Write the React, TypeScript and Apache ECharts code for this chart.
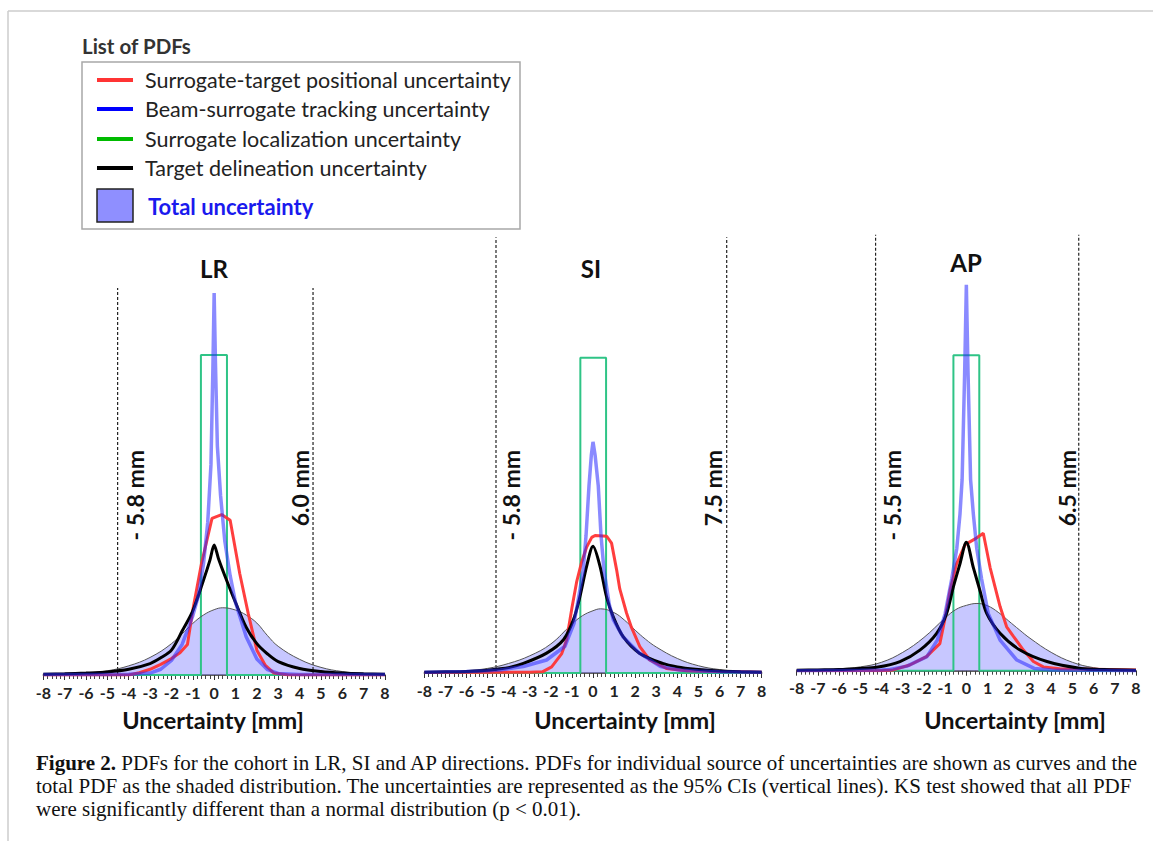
import React, { useEffect, useRef } from "react";
import * as echarts from "echarts";

// ---------- DATA (x in mm, y = probability density) ----------
const PANEL_NAMES = ["LR", "SI", "AP"];

const LR_TOTAL = [[-8,0.001],[-7,0.002],[-6,0.005],[-5,0.011],[-4,0.024],[-3,0.046],[-2,0.082],[-1,0.135],[-0.5,0.157],[0,0.171],[0.4,0.176],[1,0.17],[1.5,0.157],[2,0.136],[2.5,0.103],[3,0.075],[4,0.041],[5,0.02],[6,0.009],[7,0.004],[8,0.002]];
const LR_RED = [[-8,0],[-4,0],[-3.5,0.006],[-3,0.015],[-2.5,0.028],[-2,0.043],[-1.6,0.058],[-1.25,0.08],[-1,0.17],[-0.6,0.29],[-0.1,0.41],[0.35,0.42],[0.75,0.405],[1.2,0.265],[1.6,0.16],[2,0.065],[2.4,0.025],[2.8,0.005],[3.5,0],[8,0]];
const LR_BLUE = [[-8,0.001],[-5,0.001],[-4,0.002],[-3,0.005],[-2.5,0.015],[-2,0.038],[-1.5,0.08],[-1,0.155],[-0.75,0.205],[-0.5,0.29],[-0.3,0.4],[-0.15,0.55],[-0.06,0.8],[0,1.0],[0.06,0.82],[0.15,0.6],[0.3,0.47],[0.5,0.35],[0.75,0.26],[1,0.19],[1.5,0.1],[2,0.042],[2.5,0.014],[3,0.004],[4,0.001],[8,0.001]];
const LR_GREEN = [[-8,0],[-0.62,0],[-0.62,0.838],[0.6,0.838],[0.6,0],[8,0]];
const LR_BLACK = [[-8,0.002],[-7,0.003],[-6,0.005],[-5,0.008],[-4,0.015],[-3,0.03],[-2.5,0.045],[-2,0.065],[-1.5,0.115],[-1,0.168],[-0.5,0.248],[-0.2,0.3],[0,0.34],[0.2,0.305],[0.5,0.26],[1,0.19],[1.5,0.125],[2,0.082],[2.5,0.055],[3,0.035],[4,0.017],[5,0.009],[6,0.005],[7,0.003],[8,0.002]];
const LR_CI = [-4.52, 4.63];
const LR_CI_TOP = 1.013;
const LR_CI_LABELS = ["- 5.8 mm", "6.0 mm"];

const SI_TOTAL = [[-8,0.002],[-7,0.003],[-6,0.006],[-5,0.012],[-4,0.025],[-3,0.045],[-2,0.076],[-1,0.128],[-0.5,0.15],[0,0.163],[0.36,0.168],[1,0.158],[1.5,0.138],[2,0.112],[2.5,0.088],[3,0.068],[4,0.038],[5,0.019],[6,0.009],[7,0.004],[8,0.002]];
const SI_RED = [[-8,0.001],[-3,0.002],[-2.4,0.003],[-1.96,0.016],[-1.49,0.05],[-1.25,0.087],[-1.0,0.17],[-0.77,0.24],[-0.54,0.29],[-0.3,0.33],[-0.06,0.355],[0.1,0.36],[0.65,0.358],[0.88,0.34],[1.12,0.27],[1.27,0.22],[1.59,0.157],[1.82,0.12],[2.22,0.069],[2.69,0.034],[3.48,0.012],[4.43,0.006],[6,0.004],[7,0.003],[8,0.002]];
const SI_BLUE = [[-8,0.002],[-6,0.004],[-5,0.006],[-4.4,0.008],[-3.3,0.017],[-2.2,0.034],[-1.33,0.07],[-0.9,0.13],[-0.74,0.18],[-0.46,0.27],[-0.33,0.36],[-0.19,0.49],[-0.08,0.57],[0,0.605],[0.1,0.57],[0.25,0.49],[0.38,0.36],[0.52,0.27],[0.77,0.18],[0.96,0.14],[1.42,0.095],[2.2,0.052],[3.2,0.017],[4.1,0.008],[5,0.005],[6,0.003],[8,0.002]];
const SI_GREEN = [[-8,0],[-0.6,0],[-0.6,0.825],[0.62,0.825],[0.62,0],[8,0]];
const SI_BLACK = [[-8,0.002],[-7,0.003],[-6,0.004],[-5,0.007],[-4.57,0.01],[-4,0.014],[-3.3,0.025],[-2.2,0.052],[-1.4,0.087],[-0.93,0.139],[-0.62,0.2],[-0.3,0.28],[0,0.332],[0.33,0.28],[0.64,0.2],[0.96,0.147],[1.43,0.095],[2.2,0.052],[3.3,0.025],[4,0.016],[4.86,0.01],[6,0.005],[7,0.003],[8,0.002]];
const SI_CI = [-4.6, 6.34];
const SI_CI_TOP = 1.141;
const SI_CI_LABELS = ["- 5.8 mm", "7.5 mm"];

const AP_TOTAL = [[-8,0.001],[-7,0.002],[-6,0.005],[-5,0.01],[-4,0.022],[-3,0.048],[-2,0.087],[-1,0.138],[-0.5,0.16],[0,0.171],[0.5,0.176],[1,0.17],[1.5,0.153],[2,0.13],[2.5,0.107],[3,0.085],[4,0.048],[5,0.022],[6,0.008],[7,0.003],[8,0.001]];
const AP_RED = [[-8,0],[-4,0],[-3.45,0.002],[-2.67,0.015],[-1.88,0.037],[-1.25,0.071],[-1.02,0.133],[-0.77,0.21],[-0.46,0.28],[-0.06,0.33],[0.41,0.345],[0.8,0.36],[1.12,0.27],[1.59,0.168],[1.9,0.115],[2.22,0.09],[2.69,0.054],[3.16,0.024],[3.63,0.01],[4.4,0.005],[6,0.004],[8,0.002]];
const AP_BLUE = [[-8,0],[-5,0.001],[-4,0.002],[-3.6,0.003],[-2.8,0.012],[-1.86,0.037],[-1.37,0.08],[-1,0.15],[-0.69,0.24],[-0.45,0.32],[-0.3,0.41],[-0.2,0.5],[-0.08,0.78],[0,1.01],[0.08,0.78],[0.2,0.5],[0.33,0.41],[0.49,0.32],[0.72,0.24],[1.03,0.15],[1.59,0.08],[2.38,0.028],[3.2,0.006],[4,0.002],[5,0.001],[8,0]];
const AP_GREEN = [[-8,0],[-0.61,0],[-0.61,0.826],[0.61,0.826],[0.61,0],[8,0]];
const AP_BLACK = [[-8,0.001],[-7,0.002],[-6,0.003],[-5,0.006],[-4.23,0.009],[-3.13,0.024],[-2.19,0.054],[-1.4,0.098],[-0.93,0.15],[-0.61,0.22],[-0.3,0.28],[0,0.336],[0.33,0.27],[0.64,0.21],[0.96,0.15],[1.59,0.098],[2.53,0.054],[3.8,0.024],[5.4,0.006],[6.5,0.003],[8,0.001]];
const AP_CI = [-4.28, 5.3];
const AP_CI_TOP = 1.141;
const AP_CI_LABELS = ["- 5.5 mm", "6.5 mm"];

const LEGEND_TITLE = "List of PDFs";
const LEGEND_ITEMS = [
  "Surrogate-target positional uncertainty",
  "Beam-surrogate tracking uncertainty",
  "Surrogate localization uncertainty",
  "Target delineation uncertainty",
];
const LEGEND_TOTAL = "Total uncertainty";
const AXIS_NAME = "Uncertainty [mm]";
const CAPTION_LINES = [
  "{b|Figure 2.} PDFs for the cohort in LR, SI and AP directions. PDFs for individual source of uncertainties are shown as curves and the",
  "total PDF as the shaded distribution. The uncertainties are represented as the 95% CIs (vertical lines). KS test showed that all PDF",
  "were significantly different than a normal distribution (p < 0.01).",
];

// ---------- STYLE / LAYOUT ----------
const SANS = "Lato, 'Open Sans', sans-serif";
const SERIF = "'Liberation Serif', 'DejaVu Serif', serif";
const C_RED = "#ff3434";
const C_BLUE = "#2a2aff";
const C_GREEN = "#2fc486";
const C_BLACK = "#000000";
const C_FILL = "#8f8fff";
const Y_MAX = 1.2;
const PX_PER_UNIT = 382;

const PANELS = [
  { name: PANEL_NAMES[0], left: 43.3, right: 385, base: 675, total: LR_TOTAL, red: LR_RED, blue: LR_BLUE, green: LR_GREEN, black: LR_BLACK, ci: LR_CI, ciTop: LR_CI_TOP, ciLabels: LR_CI_LABELS, titleX: 214, titleY: 268, nameX: 213, labelX: [134.5, 299.5] },
  { name: PANEL_NAMES[1], left: 424.3, right: 761.7, base: 673, total: SI_TOTAL, red: SI_RED, blue: SI_BLUE, green: SI_GREEN, black: SI_BLACK, ci: SI_CI, ciTop: SI_CI_TOP, ciLabels: SI_CI_LABELS, titleX: 591, titleY: 268, nameX: 625, labelX: [511, 713] },
  { name: PANEL_NAMES[2], left: 796.7, right: 1136, base: 670.7, total: AP_TOTAL, red: AP_RED, blue: AP_BLUE, green: AP_GREEN, black: AP_BLACK, ci: AP_CI, ciTop: AP_CI_TOP, ciLabels: AP_CI_LABELS, titleX: 966, titleY: 262, nameX: 1015, labelX: [892, 1067] },
];

function txt(text: string, x: number, y: number, opts: any = {}) {
  const align = opts.align || "left";
  const va = opts.va || "middle";
  return {
    type: "text",
    x,
    y,
    rotation: opts.rotation || 0,
    z: 100,
    silent: true,
    style: {
      text,
      fill: opts.fill || "#111",
      fontFamily: opts.family || SANS,
      fontSize: opts.size || 16,
      fontWeight: opts.weight || "normal",
      align,
      verticalAlign: va,
      textAlign: align,
      textVerticalAlign: va,
      rich: opts.rich,
    },
  };
}

function buildOption() {
  const gridH = Y_MAX * PX_PER_UNIT;
  const grid: any[] = [];
  const xAxis: any[] = [];
  const yAxis: any[] = [];
  const series: any[] = [];
  const graphic: any[] = [];

  PANELS.forEach((p, i) => {
    grid.push({ left: p.left, top: p.base - gridH, width: p.right - p.left, height: gridH, containLabel: false });
    xAxis.push({
      type: "value", gridIndex: i, min: -8, max: 8, interval: 1,
      axisLine: { show: true, onZero: false, lineStyle: { color: "#2a2a2a", width: 1.5 } },
      axisTick: { show: true, length: 5, lineStyle: { color: "#333", width: 1 } },
      minorTick: { show: true, splitNumber: 5, length: 4, lineStyle: { color: "#444", width: 1 } },
      splitLine: { show: false },
      axisLabel: { show: true, margin: 9, fontFamily: SANS, fontWeight: "bold", fontSize: 16, color: "#222", showMinLabel: true, showMaxLabel: true },
    });
    yAxis.push({ type: "value", gridIndex: i, min: 0, max: Y_MAX, show: false, splitLine: { show: false } });

    const base = { type: "line", xAxisIndex: i, yAxisIndex: i, showSymbol: false, symbol: "none", silent: true, z: 2 };
    p.ci.forEach((cx, k) => {
      series.push({ ...base, name: `${p.name} CI ${k}`, data: [[cx, 0], [cx, p.ciTop]], lineStyle: { color: "#222", width: 1.2, type: [3, 2] } });
    });
    series.push({ ...base, name: `${p.name} localization`, data: p.green, lineStyle: { color: C_GREEN, width: 2 } });
    series.push({ ...base, name: `${p.name} total`, data: p.total, smooth: 0.4, lineStyle: { color: "#555", width: 1 }, areaStyle: { color: C_FILL, opacity: 0.5 } });
    series.push({ ...base, name: `${p.name} positional`, data: p.red, lineStyle: { color: C_RED, width: 3, opacity: 0.95 } });
    series.push({ ...base, name: `${p.name} delineation`, data: p.black, smooth: 0.3, lineStyle: { color: C_BLACK, width: 3 } });
    series.push({ ...base, name: `${p.name} tracking`, data: p.blue, lineStyle: { color: C_BLUE, width: 3.5, opacity: 0.55 } });

    graphic.push(txt(p.name, p.titleX, p.titleY, { align: "center", size: 24, weight: "bold" }));
    graphic.push(txt(AXIS_NAME, p.nameX, 720, { align: "center", size: 23.5, weight: "bold" }));
    p.ciLabels.forEach((lab, k) => {
      graphic.push(txt(lab, p.labelX[k], 450, { align: "right", va: "middle", rotation: Math.PI / 2, size: 23, weight: "bold" }));
    });
  });

  // frame
  graphic.push({ type: "line", silent: true, shape: { x1: 8, y1: 11, x2: 1153, y2: 11 }, style: { stroke: "#cccccc", lineWidth: 1.5 } });
  graphic.push({ type: "line", silent: true, shape: { x1: 8, y1: 11, x2: 8, y2: 841 }, style: { stroke: "#cccccc", lineWidth: 1.5 } });

  // legend
  graphic.push(txt(LEGEND_TITLE, 82, 46, { size: 20.5, weight: "bold", fill: "#333" }));
  graphic.push({ type: "rect", silent: true, shape: { x: 82, y: 62, width: 438, height: 167 }, style: { fill: "#fff", stroke: "#a8a8a8", lineWidth: 1.5 }, z: 50 });
  const legendColors = [C_RED, "#0000ff", "#00bb00", "#000000"];
  const rowsY = [80, 109, 139, 168];
  LEGEND_ITEMS.forEach((t, k) => {
    graphic.push({ type: "line", silent: true, z: 60, shape: { x1: 97, y1: rowsY[k], x2: 133, y2: rowsY[k] }, style: { stroke: legendColors[k], lineWidth: 4 } });
    graphic.push(txt(t, 145, rowsY[k], { size: 21.5, fill: "#222" }));
  });
  graphic.push({ type: "rect", silent: true, z: 60, shape: { x: 97, y: 189, width: 36, height: 33 }, style: { fill: C_FILL, stroke: "#222", lineWidth: 1.5 } });
  graphic.push(txt(LEGEND_TOTAL, 148, 206, { size: 22, weight: "bold", fill: "#1a1aee" }));

  // caption
  CAPTION_LINES.forEach((line, k) => {
    graphic.push(txt(line, 36, 763 + k * 23, {
      family: SERIF, size: 21, fill: "#111",
      rich: { b: { fontFamily: SERIF, fontSize: 21, fontWeight: "bold", fill: "#111" } },
    }));
  });

  return { animation: false, backgroundColor: "#ffffff", grid, xAxis, yAxis, series, graphic };
}

export default function App() {
  const ref = useRef<HTMLDivElement>(null);
  useEffect(() => {
    if (!ref.current) return;
    const chart = echarts.init(ref.current, undefined, { renderer: "svg" });
    chart.setOption(buildOption());
    return () => chart.dispose();
  }, []);
  return <div ref={ref} style={{ position: "absolute", left: 0, top: 0, width: 1153, height: 841, background: "#fff" }} />;
}
